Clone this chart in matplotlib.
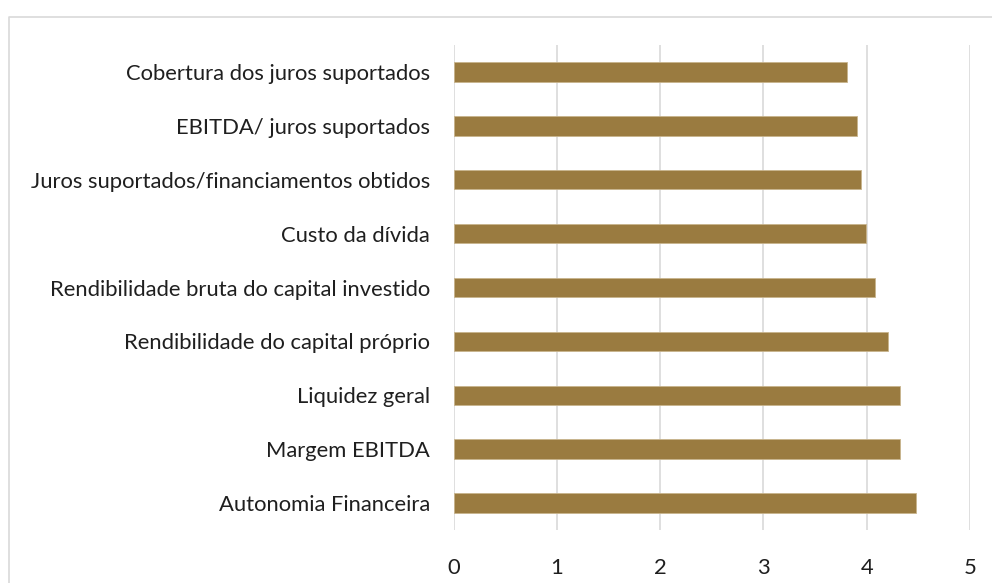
import matplotlib
matplotlib.use("Agg")
import matplotlib.pyplot as plt
from matplotlib.lines import Line2D

categories = [
    "Autonomia Financeira",
    "Margem EBITDA",
    "Liquidez geral",
    "Rendibilidade do capital próprio",
    "Rendibilidade bruta do capital investido",
    "Custo da dívida",
    "Juros suportados/financiamentos obtidos",
    "EBITDA/ juros suportados",
    "Cobertura dos juros suportados",
]
values = [4.48, 4.32, 4.32, 4.21, 4.08, 3.99, 3.94, 3.91, 3.81]
xticks = [0, 1, 2, 3, 4, 5]

plt.rcParams['font.family'] = ['Lato', 'DejaVu Sans']

W, H = 992, 583
fig = plt.figure(figsize=(W / 100, H / 100), dpi=100)
fig.patch.set_facecolor("white")

# outer chart border (light gray), left and top visible
x0 = 8.5 / W
yt = 1 - 16.5 / H
fig.add_artist(Line2D([x0, x0, 1.01], [-0.01, yt, yt], transform=fig.transFigure,
                      color="#d9d9d9", lw=1.2))

left, right = 453.5 / W, 970 / W
top, bottom = 1 - 45 / H, 1 - 530 / H
ax = fig.add_axes([left, bottom, right - left, top - bottom])

y = list(range(len(categories)))
ax.barh(y, values, height=0.36, color="#9a7b40", edgecolor="#c8b48c", linewidth=0.6, zorder=3)

ax.set_xlim(0, 5)
ax.set_ylim(-0.5, len(categories) - 0.5)
ax.set_xticks(xticks)
ax.set_xticklabels([str(t) for t in xticks])
ax.set_yticks(y)
ax.set_yticklabels(categories)

ax.grid(axis="x", color="#d9d9d9", lw=1.2, zorder=0)
ax.grid(axis="y", visible=False)
for s in ax.spines.values():
    s.set_visible(False)
ax.tick_params(axis="both", length=0, labelsize=15.8, colors="#1f1f1f")
ax.tick_params(axis="y", pad=17)
ax.tick_params(axis="x", pad=20.5)

fig.savefig("out.png", dpi=100, facecolor="white")
